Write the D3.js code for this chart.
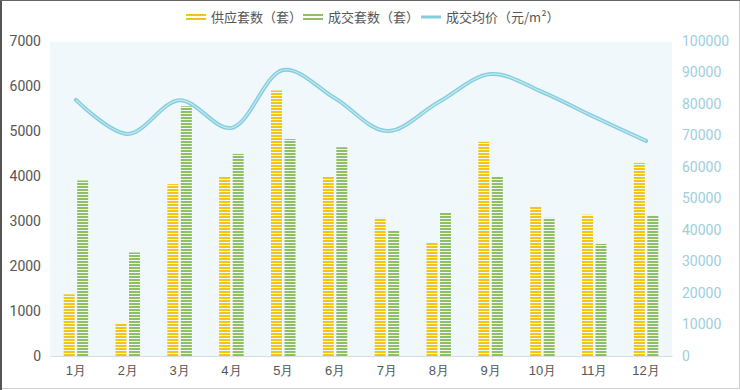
<!DOCTYPE html>
<html><head><meta charset="utf-8">
<script src="https://cdn.jsdelivr.net/npm/d3@7/dist/d3.min.js"></script>
<style>
html,body{margin:0;padding:0;background:#fff;}
svg{display:block;font-family:"Noto Sans CJK SC","Noto Sans",sans-serif;}
</style></head><body>
<svg id="c" width="740" height="390"></svg>
<script>
const months = ["1月","2月","3月","4月","5月","6月","7月","8月","9月","10月","11月","12月"];
const supply = [1370, 720, 3820, 4000, 5900, 4000, 3070, 2510, 4760, 3310, 3140, 4290];
const deals  = [3900, 2300, 5550, 4490, 4820, 4640, 2780, 3180, 4000, 3070, 2490, 3120];
const price  = [81300, 70500, 81200, 72400, 90800, 81800, 71400, 80600, 89500, 83800, 75900, 68300];
const leftTicks = [0,1000,2000,3000,4000,5000,6000,7000];
const rightTicks = [0,10000,20000,30000,40000,50000,60000,70000,80000,90000,100000];
const legendLabels = ["供应套数（套）","成交套数（套）","成交均价（元/m²）"];

const W=740,H=390;
const m={l:50,r:68,t:41,b:34};
const svg=d3.select("#c");
const x=d3.scaleBand().domain(months).range([m.l,W-m.r]);
const yL=d3.scaleLinear().domain([0,7000]).range([H-m.b,m.t]);
const yR=d3.scaleLinear().domain([0,100000]).range([H-m.b,m.t]);

const defs=svg.append("defs");
function pat(id,color){
  const p=defs.append("pattern").attr("id",id).attr("patternUnits","userSpaceOnUse")
    .attr("width",20).attr("height",3);
  p.append("rect").attr("x",0).attr("y",0).attr("width",20).attr("height",2).attr("fill",color);
}
const cY="#f2c414", cG="#8fbf62", cL="#86cddd";
pat("py",cY); pat("pg",cG);

// frame
svg.append("rect").attr("x",0.5).attr("y",0.5).attr("width",W-1).attr("height",H-2)
  .attr("fill","none").attr("stroke","#cfcfcf");
svg.append("line").attr("x1",1).attr("x2",1).attr("y1",0).attr("y2",H).attr("stroke","#555").attr("stroke-width",2);
svg.append("line").attr("x1",0).attr("x2",W).attr("y1",0.5).attr("y2",0.5).attr("stroke","#666");

// plot background
svg.append("rect").attr("x",m.l).attr("y",m.t+1).attr("width",W-m.l-m.r).attr("height",H-m.b-m.t-1)
  .attr("fill","#f1f8fc");

// axes
const axL=svg.append("g").attr("transform",`translate(${m.l},0)`)
  .call(d3.axisLeft(yL).tickValues(leftTicks).tickSize(0).tickPadding(9).tickFormat(d3.format("d")));
axL.select(".domain").remove();
axL.selectAll("text").attr("fill","#555").attr("font-size",14).attr("font-family","Roboto,'Noto Sans',sans-serif");

const axR=svg.append("g").attr("transform",`translate(${W-m.r},0)`)
  .call(d3.axisRight(yR).tickValues(rightTicks).tickSize(0).tickPadding(10).tickFormat(d3.format("d")));
axR.select(".domain").remove();
axR.selectAll("text").attr("fill","#9ccfdc").attr("font-size",14).attr("font-family","Roboto,'Noto Sans',sans-serif");

const axB=svg.append("g").attr("transform",`translate(0,${H-m.b})`)
  .call(d3.axisBottom(x).tickSize(0).tickPadding(10));
axB.select(".domain").attr("stroke","#d6dde0");
axB.selectAll("text").attr("fill","#555").attr("font-size",13);

// bars
const bw=11, gap=2.5;
const g=svg.append("g");
g.selectAll(".s").data(supply).join("rect")
  .attr("x",(d,i)=>x(months[i])+x.bandwidth()/2-gap/2-bw)
  .attr("y",d=>yL(d)).attr("width",bw).attr("height",d=>yL(0)-yL(d))
  .attr("fill","url(#py)");
g.selectAll(".d").data(deals).join("rect")
  .attr("x",(d,i)=>x(months[i])+x.bandwidth()/2+gap/2)
  .attr("y",d=>yL(d)).attr("width",bw).attr("height",d=>yL(0)-yL(d))
  .attr("fill","url(#pg)");

// line
const line=d3.line().x((d,i)=>x(months[i])+x.bandwidth()/2).y(d=>yR(d)).curve(d3.curveCatmullRom.alpha(0.5));
svg.append("path").datum(price).attr("d",line).attr("fill","none").attr("stroke",cL).attr("stroke-width",4).attr("stroke-linecap","round");
svg.append("path").datum(price).attr("d",line).attr("fill","none").attr("stroke","#c4ebf2").attr("stroke-width",1.2);

// legend
const lg=svg.append("g");
const items=[{x:186,type:"py",c:cY},{x:303,type:"pg",c:cG},{x:421,type:"line",c:cL}];
items.forEach((it,i)=>{
  if(it.type==="line"){
    lg.append("line").attr("x1",it.x).attr("x2",it.x+20).attr("y1",17).attr("y2",17).attr("stroke",it.c).attr("stroke-width",3);
  } else {
    lg.append("rect").attr("x",it.x).attr("y",14).attr("width",20).attr("height",2).attr("fill",it.c);
    lg.append("rect").attr("x",it.x).attr("y",18).attr("width",20).attr("height",2).attr("fill",it.c);
  }
  lg.append("text").attr("x",it.x+25).attr("y",22).attr("font-size",13).attr("fill","#555").text(legendLabels[i]);
});
</script>
</body></html>
